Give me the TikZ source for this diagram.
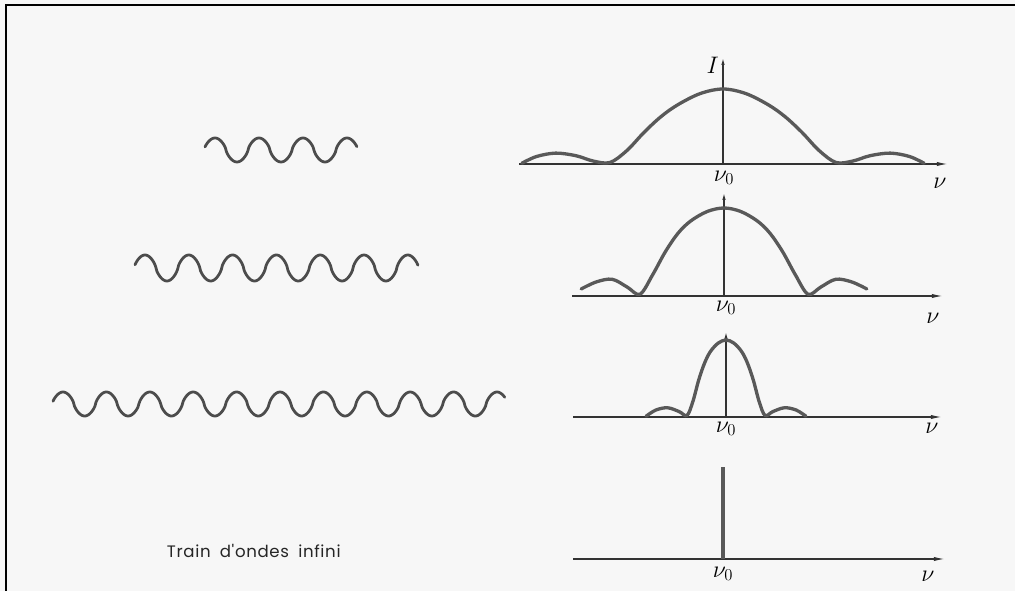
\documentclass[tikz,border=0pt]{standalone}
\usepackage{fontspec}
\newfontfamily\capfont{Poppins}[WordSpace=1.8, LetterSpace=4]
\usetikzlibrary{arrows.meta}

\tikzset{
  curve/.style={line width=2.4pt, draw=black!65, line join=round, line cap=round},
  wave/.style={line width=2pt, draw=black!70, line cap=round},
  axis/.style={line width=0.9pt, draw=black!80, -{Latex[length=8pt,width=3pt]}},
  yaxis/.style={line width=0.8pt, draw=black!80, -{Latex[length=5pt,width=2.5pt]}},
  lbl/.style={font=\LARGE, inner sep=0pt},
  declare function={sq(\t)=sign(cos(\t))*abs(cos(\t))^0.7;}
}

\begin{document}
\begin{tikzpicture}[x=1in,y=1in]
\useasboundingbox (0,0) rectangle (10.15,5.91);
\fill[black!3] (0,0) rectangle (10.15,5.91);
\draw[line width=1.2pt] (0.06,0) -- (0.06,5.86) -- (10.15,5.86);
% wave trains
\draw[wave] plot[domain=2.05:3.57, samples=150] (\x,{4.41+0.12*sq(360*(\x-2.15)/0.44)});
\draw[wave] plot[domain=1.35:4.18, samples=260] (\x,{3.23+0.13*sq(360*(\x-1.45)/0.438)});
\draw[wave] plot[domain=0.53:5.05, samples=400] (\x,{1.87+0.12*sq(360*(\x-0.63)/0.434)});
\node[font=\capfont\fontsize{12}{14}\selectfont, text=black!85, anchor=west] (cap) at (1.62,0.40) {Train d'ondes infini};
% first spectrum
\coordinate (a1w) at (5.19,4.27);
\coordinate (a1e) at (9.48,4.27);
\coordinate (a1o) at (7.23,4.27);
\coordinate (a1n) at (7.23,5.33);
\draw[axis] (a1w) -- (a1e);
\draw[yaxis] (a1o) -- (a1n);
\begin{scope}[shift={(a1o)}, xscale=1.13, yscale=0.75]
\draw[curve] plot[smooth, tension=0.55] coordinates {(-1.78,0.01) (-1.65,0.10) (-1.48,0.145) (-1.30,0.11) (-1.15,0.04) (-1.0,0.02) (-0.85,0.18) (-0.7,0.42) (-0.55,0.63) (-0.4,0.79) (-0.2,0.94) (0,1) (0.2,0.94) (0.4,0.79) (0.55,0.63) (0.7,0.42) (0.85,0.18) (1.0,0.02) (1.15,0.04) (1.30,0.11) (1.48,0.145) (1.65,0.10) (1.78,0.01)};
\end{scope}
\node[lbl] (nu1) at (7.24,4.13) {$\nu_0$};
\node[lbl] (f1) at (9.40,4.08) {$\nu$};
\node[lbl, anchor=east] (I1) at (7.19,5.26) {$I$};
% second spectrum
\coordinate (a2w) at (5.72,2.95);
\coordinate (a2e) at (9.43,2.95);
\coordinate (a2o) at (7.24,2.95);
\coordinate (a2n) at (7.24,3.98);
\draw[axis] (a2w) -- (a2e);
\draw[yaxis] (a2o) -- (a2n);
\begin{scope}[shift={(a2o)}, xscale=0.84, yscale=0.88]
\draw[curve] plot[smooth, tension=0.55] coordinates {(-1.70,0.08) (-1.52,0.16) (-1.33,0.19) (-1.15,0.10) (-1.0,0.02) (-0.85,0.24) (-0.7,0.50) (-0.55,0.71) (-0.4,0.85) (-0.2,0.96) (0,1) (0.2,0.96) (0.4,0.85) (0.55,0.71) (0.7,0.50) (0.85,0.24) (1.0,0.02) (1.15,0.10) (1.33,0.19) (1.52,0.16) (1.70,0.08)};
\end{scope}
\node[lbl] (nu2) at (7.26,2.83) {$\nu_0$};
\node[lbl] (f2) at (9.33,2.73) {$\nu$};
% third spectrum
\coordinate (a3w) at (5.73,1.74);
\coordinate (a3e) at (9.42,1.74);
\coordinate (a3o) at (7.26,1.74);
\coordinate (a3n) at (7.26,2.59);
\draw[axis] (a3w) -- (a3e);
\draw[yaxis] (a3o) -- (a3n);
\begin{scope}[shift={(a3o)}, xscale=0.39, yscale=0.77]
\draw[curve] plot[smooth, tension=0.55] coordinates {(-2.05,0.01) (-1.8,0.09) (-1.5,0.12) (-1.2,0.07) (-1.0,0.02) (-0.85,0.20) (-0.7,0.48) (-0.55,0.70) (-0.4,0.85) (-0.2,0.96) (0,1) (0.2,0.96) (0.4,0.85) (0.55,0.70) (0.7,0.48) (0.85,0.20) (1.0,0.02) (1.2,0.07) (1.5,0.12) (1.8,0.09) (2.05,0.01)};
\end{scope}
\node[lbl] (nu3) at (7.26,1.62) {$\nu_0$};
\node[lbl] (f3) at (9.32,1.63) {$\nu$};
% infinite train
\coordinate (a4w) at (5.73,0.32);
\coordinate (a4e) at (9.45,0.32);
\coordinate (a4o) at (7.23,0.32);
\coordinate (a4n) at (7.23,1.24);
\draw[axis] (a4w) -- (a4e);
\draw[curve, line cap=butt] (a4o) -- (a4n);
\node[lbl] (nu4) at (7.23,0.17) {$\nu_0$};
\node[lbl] (f4) at (9.28,0.15) {$\nu$};
\end{tikzpicture}
\end{document}
